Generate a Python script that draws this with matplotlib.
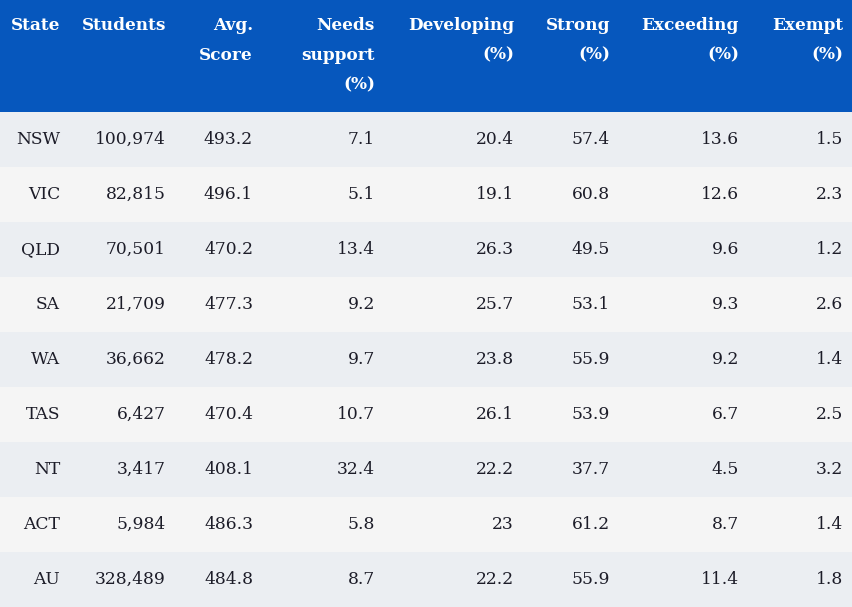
import matplotlib
matplotlib.use("Agg")
import matplotlib.pyplot as plt

states = ["NSW", "VIC", "QLD", "SA", "WA", "TAS", "NT", "ACT", "AU"]
students = ["100,974", "82,815", "70,501", "21,709", "36,662", "6,427", "3,417", "5,984", "328,489"]
avg_score = [493.2, 496.1, 470.2, 477.3, 478.2, 470.4, 408.1, 486.3, 484.8]
needs_support = [7.1, 5.1, 13.4, 9.2, 9.7, 10.7, 32.4, 5.8, 8.7]
developing = ["20.4", "19.1", "26.3", "25.7", "23.8", "26.1", "22.2", "23", "22.2"]
strong = [57.4, 60.8, 49.5, 53.1, 55.9, 53.9, 37.7, 61.2, 55.9]
exceeding = [13.6, 12.6, 9.6, 9.3, 9.2, 6.7, 4.5, 8.7, 11.4]
exempt = [1.5, 2.3, 1.2, 2.6, 1.4, 2.5, 3.2, 1.4, 1.8]

headers = [["State"], ["Students"], ["Avg.", "Score"], ["Needs", "support", "(%)"],
           ["Developing", "(%)"], ["Strong", "(%)"], ["Exceeding", "(%)"], ["Exempt", "(%)"]]

# right edge of each column in pixels
col_right = [60, 166, 253, 375, 514, 610, 739, 843]

W, H = 852, 607
header_h = 112
row_h = 55

fig = plt.figure(figsize=(W / 100, H / 100), dpi=100)
ax = fig.add_axes([0, 0, 1, 1])
ax.set_xlim(0, W)
ax.set_ylim(H, 0)
ax.axis("off")

# header band
ax.axhspan(0, header_h, color="#0657bd", lw=0)
for x, lines in zip(col_right, headers):
    for j, line in enumerate(lines):
        ax.text(x, 25 + j * 30, line, ha="right", va="center", color="white",
                fontsize=12.2, fontweight="bold", family="DejaVu Serif")

columns = [states, students,
           [f"{v:.1f}" for v in avg_score],
           [f"{v:.1f}" for v in needs_support],
           developing,
           [f"{v:.1f}" for v in strong],
           [f"{v:.1f}" for v in exceeding],
           [f"{v:.1f}" for v in exempt]]

for i in range(len(states)):
    top = header_h + i * row_h
    ax.axhspan(top, top + row_h, color="#ebeef2" if i % 2 == 0 else "#f5f5f5", lw=0)
    for x, col in zip(col_right, columns):
        ax.text(x, top + row_h / 2, col[i], ha="right", va="center", color="#1c1c28",
                fontsize=12.3, family="DejaVu Serif")

fig.savefig("out.png", dpi=100)
